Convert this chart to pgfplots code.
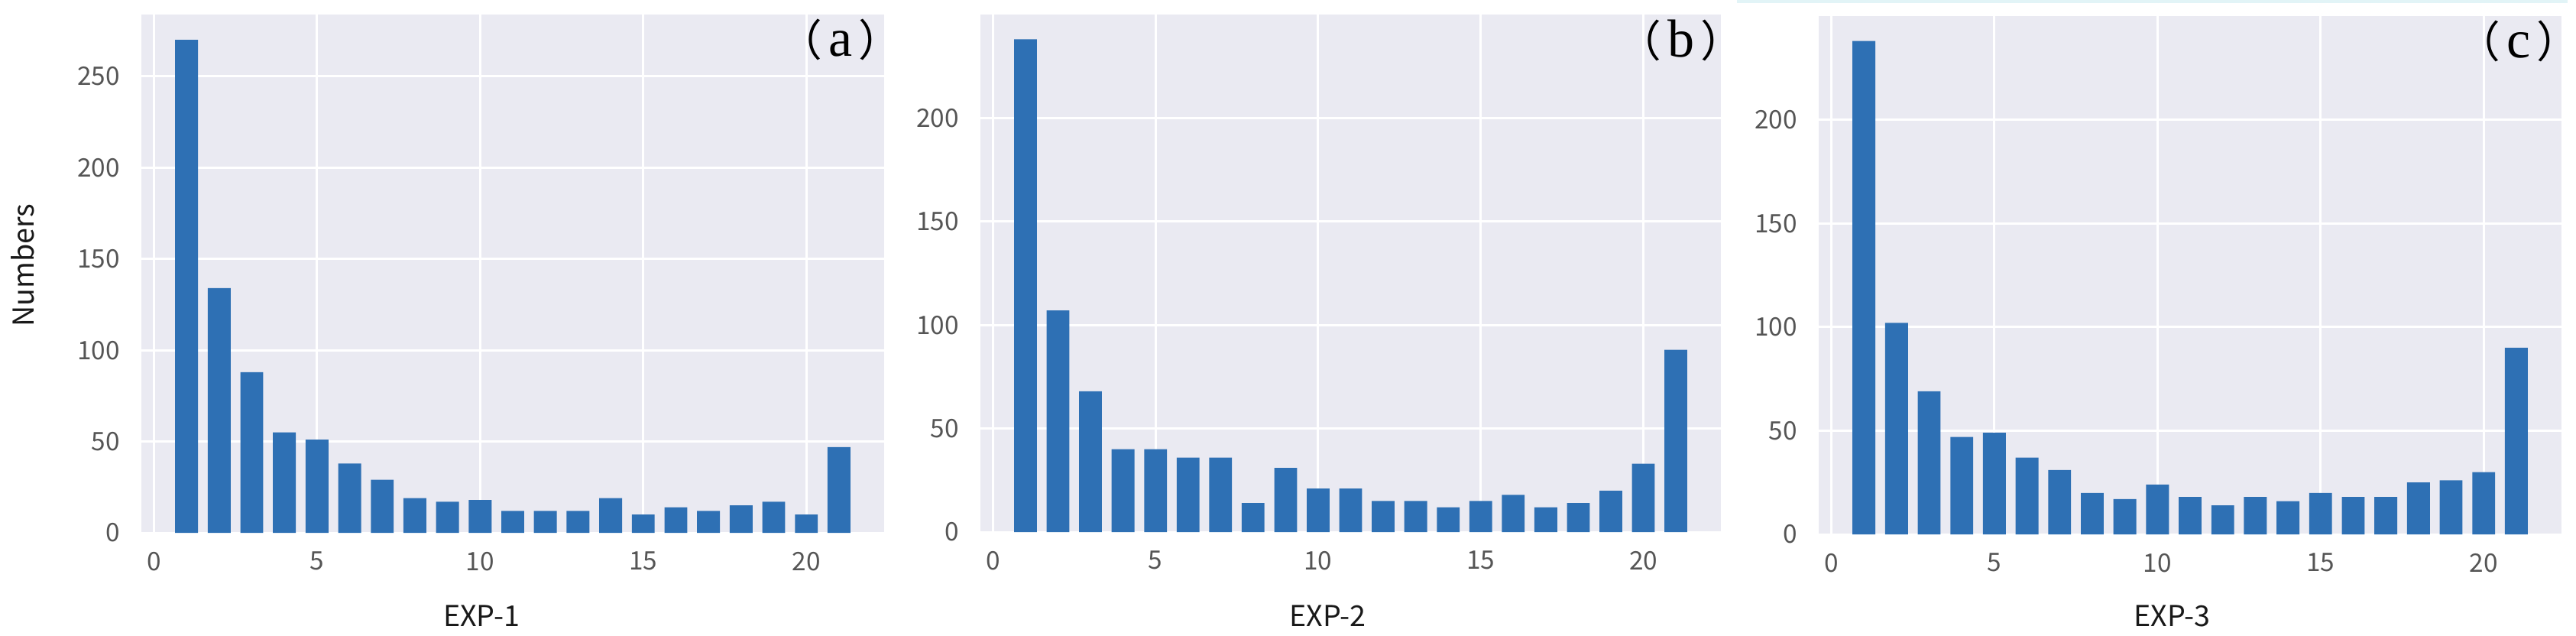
\documentclass[border=0pt]{standalone}
\usepackage{fontspec}
\usepackage{pgfplots}
\pgfplotsset{compat=1.18}
\newfontfamily\cjk{Noto Sans CJK SC}
\newfontfamily\lser{Liberation Serif}
\definecolor{barblue}{RGB}{46,112,180}
\definecolor{bgc}{RGB}{234,234,242}
\definecolor{tickgray}{RGB}{85,85,85}
\definecolor{topcyan}{RGB}{226,244,247}
\pgfplotsset{
  myaxis/.style={
    scale only axis,
    anchor=south west,
    xmin=-0.385, xmax=22.385, ymin=0,
    axis background/.style={fill=bgc},
    axis line style={draw=none},
    major tick length=0pt,
    grid=major,
    major grid style={white, line width=0.9pt},
    xtick={0,5,10,15,20},
    /pgf/number format/assume math mode=true,
    ticklabel style={font=\cjk\fontsize{10}{12}\selectfont, text=tickgray},
    xticklabel style={yshift=-4pt},
    yticklabel style={xshift=-5pt},
    label style={font=\cjk\fontsize{11.3}{13}\selectfont, text=black!90},
    clip=false,
  },
  mybar/.style={ybar, bar width=0.7, fill=barblue, draw=none},
}
\newcommand{\plab}[1]{{\cjk\fontsize{17}{17}\selectfont （}\hspace{2.5pt}{\lser\fontsize{21}{21}\selectfont #1}\hspace{2.5pt}{\cjk\fontsize{17}{17}\selectfont ）}}
\begin{document}
\begin{tikzpicture}
\useasboundingbox (0,0) rectangle (1011.3pt,249.3pt);
\fill[topcyan] (681.9pt,248.1pt) rectangle (1008pt,249.3pt);
% (a)
\begin{axis}[myaxis, at={(55.5pt,40.2pt)}, width=291.6pt, height=203.4pt,
  ymax=283.9, ytick={0,50,100,150,200,250},
  xlabel={EXP-1}, xlabel style={at={(axis description cs:0.458,-0.1608)}, anchor=center},
  ylabel={Numbers}, ylabel style={at={(axis description cs:-0.1595,0.516)}, anchor=center}]
\addplot[mybar] coordinates {
(1,270) (2,134) (3,88) (4,55) (5,51) (6,38) (7,29) (8,19) (9,17) (10,18) (11,12)
(12,12) (13,12) (14,19) (15,10) (16,14) (17,12) (18,15) (19,17) (20,10) (21,47)};
\node[inner sep=0pt] at (rel axis cs:0.941,0.952) {\plab{a}};
\end{axis}
% (b)
\begin{axis}[myaxis, at={(384.9pt,40.5pt)}, width=290.7pt, height=203.1pt,
  ymax=250, ytick={0,50,100,150,200},
  xlabel={EXP-2}, xlabel style={at={(axis description cs:0.469,-0.1625)}, anchor=center}]
\addplot[mybar] coordinates {
(1,238) (2,107) (3,68) (4,40) (5,40) (6,36) (7,36) (8,14) (9,31) (10,21) (11,21)
(12,15) (13,15) (14,12) (15,15) (16,18) (17,12) (18,14) (19,20) (20,33) (21,88)};
\node[inner sep=0pt] at (rel axis cs:0.946,0.95) {\plab{b}};
\end{axis}
% (c)
\begin{axis}[myaxis, at={(714pt,39.6pt)}, width=291.6pt, height=203.4pt,
  ymax=250, ytick={0,50,100,150,200},
  xlabel={EXP-3}, xlabel style={at={(axis description cs:0.476,-0.158)}, anchor=center}]
\addplot[mybar] coordinates {
(1,238) (2,102) (3,69) (4,47) (5,49) (6,37) (7,31) (8,20) (9,17) (10,24) (11,18)
(12,14) (13,18) (14,16) (15,20) (16,18) (17,18) (18,25) (19,26) (20,30) (21,90)};
\node[inner sep=0pt] at (rel axis cs:0.942,0.951) {\plab{c}};
\end{axis}
\end{tikzpicture}
\end{document}
